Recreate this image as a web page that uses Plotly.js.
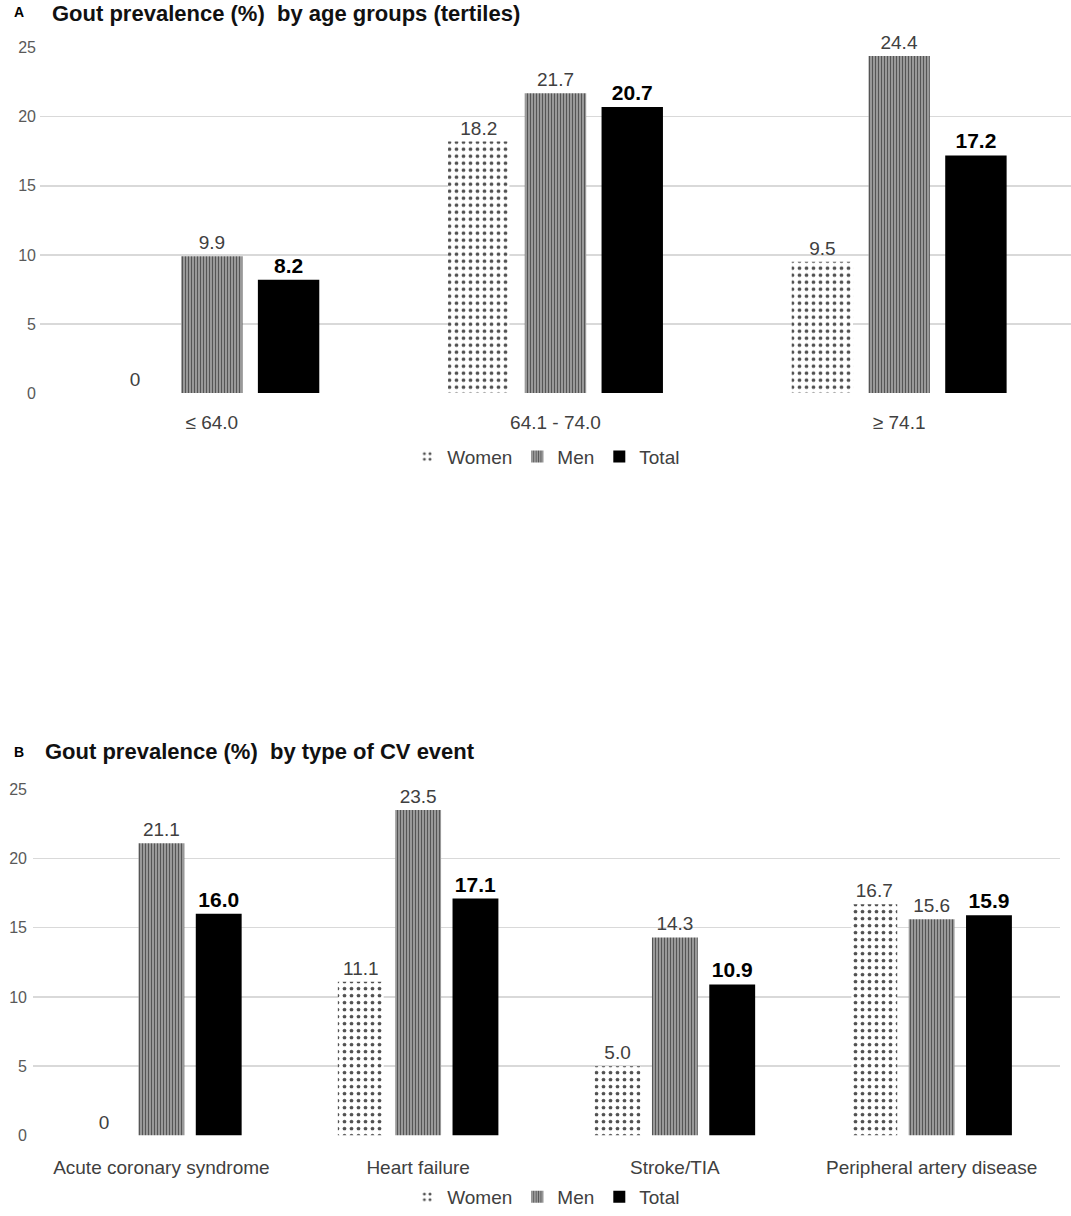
<!DOCTYPE html>
<html>
<head>
<meta charset="utf-8">
<script src="https://cdn.plot.ly/plotly-3.0.1.min.js"></script>
<style>
  body { margin: 0; background: #fff; }
  #plot { width: 1071px; height: 1216px; }
</style>
</head>
<body>
<div id="plot"></div>
<script>
// panel A: age tertiles
const ageGroups = ['≤ 64.0', '64.1 - 74.0', '≥ 74.1'];
const ageWomen = [0, 18.2, 9.5];
const ageMen = [9.9, 21.7, 24.4];
const ageTotal = [8.2, 20.7, 17.2];

// panel B: type of CV event
const cvEvents = ['Acute coronary syndrome', 'Heart failure', 'Stroke/TIA', 'Peripheral artery disease'];
const cvWomen = [0, 11.1, 5.0, 16.7];
const cvMen = [21.1, 23.5, 14.3, 15.6];
const cvTotal = [16.0, 17.1, 10.9, 15.9];

const FONT = 'Liberation Sans, Arial, sans-serif';

const fmt = v => (v === 0 ? '0' : v.toFixed(1));

const womenStyle = {
  color: '#ffffff',
  pattern: { shape: '.', fgcolor: '#505050', bgcolor: '#ffffff', size: 7, solidity: 0.22 },
  line: { width: 0 },
};
const menStyle = {
  color: '#9a9a9a',
  pattern: { shape: '|', fgcolor: '#555555', bgcolor: '#b0b0b0', size: 3, solidity: 0.5 },
  line: { width: 0 },
};
const totalStyle = { color: '#000000', line: { width: 0 } };

const plainText = { family: FONT, size: 19, color: '#404040' };
const boldText = { family: FONT, size: 21, color: '#000000', weight: 'bold' };

function makeTraces(cats, women, men, total, xa, ya, leg) {
  return [
    {
      type: 'bar', name: 'Women', x: cats, y: women, xaxis: xa, yaxis: ya, legend: leg,
      marker: womenStyle, text: women.map(fmt), textposition: 'outside',
      textfont: plainText, cliponaxis: false, hoverinfo: 'y',
    },
    {
      type: 'bar', name: 'Men', x: cats, y: men, xaxis: xa, yaxis: ya, legend: leg,
      marker: menStyle, text: men.map(fmt), textposition: 'outside',
      textfont: plainText, cliponaxis: false, hoverinfo: 'y',
    },
    {
      type: 'bar', name: 'Total', x: cats, y: total, xaxis: xa, yaxis: ya, legend: leg,
      marker: totalStyle, text: total.map(fmt), textposition: 'outside',
      textfont: boldText, cliponaxis: false, hoverinfo: 'y',
    },
  ];
}

const data = [
  ...makeTraces(ageGroups, ageWomen, ageMen, ageTotal, 'x', 'y', 'legend'),
  ...makeTraces(cvEvents, cvWomen, cvMen, cvTotal, 'x2', 'y2', 'legend2'),
];

const yBase = {
  range: [0, 25],
  dtick: 5,
  showgrid: true,
  gridcolor: '#d9d9d9',
  gridwidth: 1.5,
  zeroline: false,
  showline: false,
  ticks: '',
  tickfont: { family: FONT, size: 16, color: '#595959' },
  fixedrange: true,
};
const xBase = {
  type: 'category',
  showline: false,
  ticks: '',
  tickfont: { family: FONT, size: 19, color: '#404040' },
  fixedrange: true,
};
const legBase = {
  orientation: 'h',
  xanchor: 'center',
  yanchor: 'middle',
  x: 0.51,
  font: { family: FONT, size: 19, color: '#404040' },
  itemwidth: 30,
  traceorder: 'normal',
};

const layout = {
  width: 1071,
  height: 1216,
  margin: { l: 0, r: 0, t: 0, b: 0 },
  paper_bgcolor: '#ffffff',
  plot_bgcolor: '#ffffff',
  barmode: 'group',
  bargap: 0.33,
  bargroupgap: 0.2,
  xaxis: { ...xBase, domain: [40 / 1071, 1], anchor: 'y', ticklabelstandoff: 16 },
  yaxis: { ...yBase, domain: [(1216 - 396) / 1216, (1216 - 48) / 1216], anchor: 'x', ticklabelstandoff: 3 },
  xaxis2: { ...xBase, domain: [33 / 1071, 1060 / 1071], anchor: 'y2', ticklabelstandoff: 18 },
  yaxis2: { ...yBase, domain: [(1216 - 1144) / 1216, (1216 - 795) / 1216], anchor: 'x2', ticklabelstandoff: 5 },
  legend: { ...legBase, y: (1216 - 460) / 1216 },
  legend2: { ...legBase, y: (1216 - 1206) / 1216 },
  annotations: [
    { text: '<b>A</b>', x: 12, y: 12, xref: 'paper', yref: 'paper', showarrow: false },
    { text: '<b>B</b>', x: 12, y: 758, xref: 'paper', yref: 'paper', showarrow: false },
  ].map(a => ({
    ...a,
    x: a.x / 1071, y: 1 - a.y / 1216,
    xanchor: 'left', yanchor: 'middle',
    font: { family: FONT, size: 14, color: '#000000' },
  })).concat([
    { text: '<b>Gout prevalence (%)  by age groups (tertiles)</b>', x: 50, y: 14 },
    { text: '<b>Gout prevalence (%)  by type of CV event</b>', x: 43, y: 757 },
  ].map(a => ({
    ...a,
    x: a.x / 1071, y: 1 - a.y / 1216,
    xref: 'paper', yref: 'paper', showarrow: false,
    xanchor: 'left', yanchor: 'middle',
    font: { family: FONT, size: 22, color: '#111111' },
  }))),
};

const config = { displayModeBar: false, staticPlot: true };

Plotly.newPlot('plot', data, layout, config);
</script>
</body>
</html>
